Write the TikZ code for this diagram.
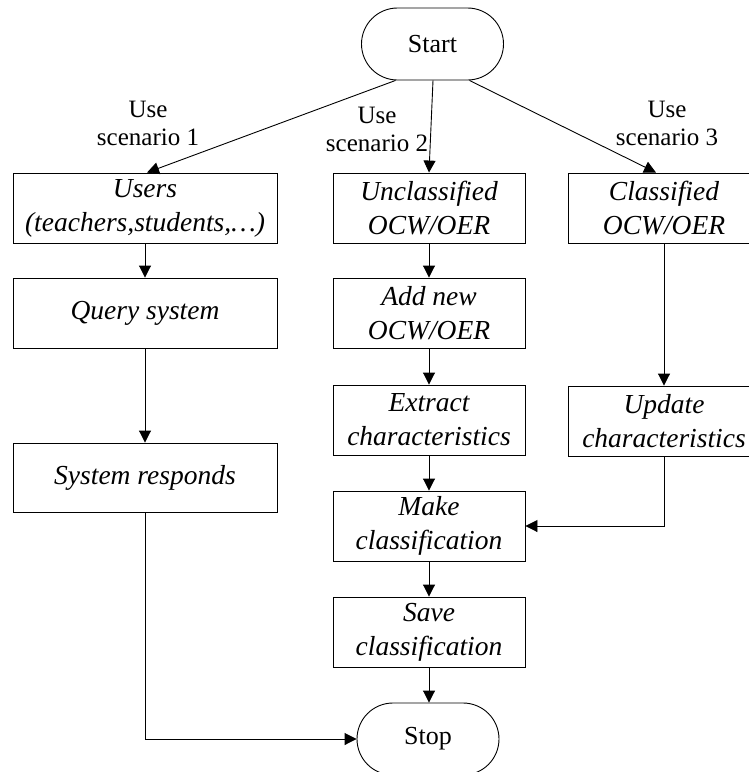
\documentclass[tikz,border=0pt]{standalone}
\usepackage{fontspec}
\setmainfont{Liberation Serif}
\usetikzlibrary{arrows.meta,calc}
\begin{document}
\begin{tikzpicture}[x=1pt,y=-1pt,
  box/.style={draw, line width=0.9pt, minimum width=#1, minimum height=70pt, inner sep=0pt, align=center, font=\fontsize{27.5}{34}\selectfont\itshape},
  box/.default=192pt,
  term/.style={draw, line width=0.9pt, rounded corners=36pt, minimum width=142pt, minimum height=72pt, inner sep=0pt, font=\fontsize{26}{30}\selectfont},
  lab/.style={align=center, inner sep=0pt, font=\fontsize{25}{28}\selectfont},
  conn/.style={line width=0.9pt, -{Triangle[length=12pt,width=12pt]}},
]
\useasboundingbox (0,0) rectangle (748,772);
\node[term] (start) at (432.5,44) {Start};
\node[box=264pt] (users) at (145,208) {Users\\(teachers,students,…)};
\node[box] (uncl) at (429,208) {Unclassified\\OCW/OER};
\node[box] (cls) at (664,208) {Classified\\OCW/OER};
\node[box=264pt] (query) at (145,313) {Query system};
\node[box] (addnew) at (429,313) {Add new\\OCW/OER};
\node[box] (extract) at (429,420) {Extract\\characteristics};
\node[box] (update) at (664,421) {Update\\characteristics};
\node[box=264pt, minimum height=69pt] (resp) at (145,477.5) {System responds};
\node[box] (make) at (429,526) {Make\\classification};
\node[box] (save) at (429,632) {Save\\classification};
\node[term] (stop) at (428,739) {Stop};
\node[lab] (l1) at (148,123) {Use\\scenario 1};
\node[lab] (l2) at (377,129) {Use\\scenario 2};
\node[lab] (l3) at (667,123) {Use\\scenario 3};
\draw[conn] ($(start.south)+(-37,0)$) -- ($(users.north)+(2,0)$);
\draw[conn] ($(start.south)+(0.5,0)$) -- (uncl.north);
\draw[conn] ($(start.south)+(37,0)$) -- ($(cls.north)+(-8,0)$);
\draw[conn] (users) -- (query);
\draw[conn] (query) -- (resp);
\draw[conn] (uncl) -- (addnew);
\draw[conn] (addnew) -- (extract);
\draw[conn] (extract) -- (make);
\draw[conn] (make) -- (save);
\draw[conn] (save.south) -- (save.south |- stop.north);
\draw[conn] (cls) -- (update);
\draw[conn] (update.south) |- (make.east);
\draw[conn] (resp.south) |- (stop.west);
\end{tikzpicture}
\end{document}
